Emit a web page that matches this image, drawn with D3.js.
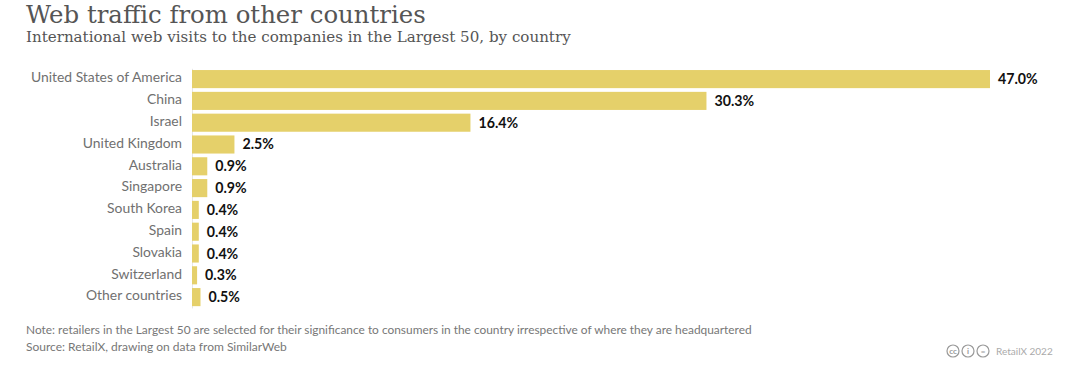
<!DOCTYPE html>
<html>
<head>
<meta charset="utf-8">
<script src="https://cdn.jsdelivr.net/npm/d3@7"></script>
<style>
  html, body { margin: 0; padding: 0; background: #fff; }
  svg { display: block; }
  .title { font-family: "DejaVu Serif", serif; fill: #555; }
  .label { font-family: "Lato", sans-serif; }
</style>
</head>
<body>
<svg id="chart" width="1080" height="368"></svg>
<script>
const countries = ["United States of America", "China", "Israel", "United Kingdom", "Australia", "Singapore", "South Korea", "Spain", "Slovakia", "Switzerland", "Other countries"];
const shares = [47.0, 30.3, 16.4, 2.5, 0.9, 0.9, 0.4, 0.4, 0.4, 0.3, 0.5];
const titleText = "Web traffic from other countries";
const subtitleText = "International web visits to the companies in the Largest 50, by country";
const noteText = "Note: retailers in the Largest 50 are selected for their significance to consumers in the country irrespective of where they are headquartered";
const sourceText = "Source: RetailX, drawing on data from SimilarWeb";
const creditText = "RetailX 2022";
const ccIcons = ["cc", "i", "="];

const svg = d3.select("#chart");
const margin = { top: 68.3, left: 192 };

svg.append("text")
  .attr("class", "title")
  .attr("x", 26)
  .attr("y", 23)
  .attr("font-size", "24.4px")
  .text(titleText);

svg.append("text")
  .attr("class", "title")
  .attr("x", 26)
  .attr("y", 42)
  .attr("font-size", "15.1px")
  .text(subtitleText);

const chart = svg.append("g")
  .attr("transform", `translate(${margin.left},${margin.top})`);

const y = d3.scaleBand()
  .domain(countries)
  .range([0, 239.6])
  .paddingInner(0.17)
  .paddingOuter(0.08);

const x = d3.scaleLinear()
  .domain([0, 47])
  .range([0, 798]);

// Y Axis
const yAxis = chart.append("g")
  .call(d3.axisLeft(y).tickSize(0).tickPadding(10));
yAxis.select(".domain")
  .attr("stroke", "#e6e6e6");
yAxis.selectAll("text")
  .attr("class", "label")
  .attr("dy", "0.24em")
  .style("font-size", "13.9px")
  .style("fill", "#707070");

// Bars
chart.selectAll(".bar")
  .data(shares)
  .enter()
  .append("rect")
  .attr("class", "bar")
  .attr("x", 0)
  .attr("y", (d, i) => y(countries[i]))
  .attr("width", d => x(d))
  .attr("height", y.bandwidth())
  .attr("fill", "#e5d06a");

// Value labels
chart.selectAll(".value")
  .data(shares)
  .enter()
  .append("text")
  .attr("class", "value label")
  .attr("x", d => x(d) + 8)
  .attr("y", (d, i) => y(countries[i]) + y.bandwidth() / 2 + 5)
  .attr("font-size", "14.2px")
  .attr("font-weight", "bold")
  .attr("fill", "#111")
  .text(d => d.toFixed(1) + "%");

// Footer
svg.append("text")
  .attr("class", "label")
  .attr("x", 26)
  .attr("y", 334)
  .attr("font-size", "11.9px")
  .attr("fill", "#777")
  .text(noteText);

svg.append("text")
  .attr("class", "label")
  .attr("x", 26)
  .attr("y", 351)
  .attr("font-size", "12px")
  .attr("fill", "#777")
  .text(sourceText);

const icons = svg.append("g")
  .selectAll("g")
  .data(ccIcons)
  .enter()
  .append("g")
  .attr("transform", (d, i) => `translate(${953 + i * 15},351)`);

icons.append("circle")
  .attr("r", 6)
  .attr("fill", "none")
  .attr("stroke", "#999")
  .attr("stroke-width", 1.2);

icons.append("text")
  .attr("class", "label")
  .attr("text-anchor", "middle")
  .attr("y", 3)
  .attr("font-size", "8px")
  .attr("font-weight", "bold")
  .attr("fill", "#999")
  .text(d => d);

svg.append("text")
  .attr("class", "label")
  .attr("x", 996)
  .attr("y", 355)
  .attr("font-size", "10px")
  .attr("fill", "#aaa")
  .text(creditText);
</script>
</body>
</html>
